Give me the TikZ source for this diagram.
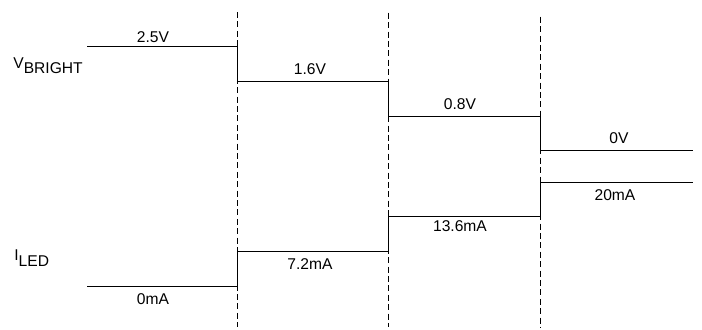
\documentclass[tikz,border=0pt]{standalone}
\usepackage{fontspec}
\setmainfont{Liberation Sans}
\usetikzlibrary{positioning}

\begin{document}
\begin{tikzpicture}[x=0.5pt, y=-0.5pt, level/.style={draw, line width=0.75pt}, guide/.style={draw, line width=0.6pt, dash pattern=on 3pt off 1.7pt}, val/.style={inner sep=0pt, font=\fontsize{7.8}{9}\selectfont}, sig/.style={inner sep=0pt, anchor=base west, font=\fontsize{7.8}{9}\selectfont}]

    \useasboundingbox (0,0) rectangle (702,329);

    % Draw dashed guides
    \coordinate (t1) at (237.5,12);
    \coordinate (b1) at (237.5,327);
    \coordinate (t2) at (388.5,12.7);
    \coordinate (b2) at (388.5,327);
    \coordinate (t3) at (540.5,16.7);
    \coordinate (b3) at (540.5,327);
    \draw[guide] (t1) -- (b1);
    \draw[guide] (t2) -- (b2);
    \draw[guide] (t3) -- (b3);

    % Draw voltage steps
    \coordinate (v0) at (87,46.5);
    \coordinate (v1) at (237.5,46.5);
    \coordinate (v2) at (237.5,81.5);
    \coordinate (v3) at (388.5,81.5);
    \coordinate (v4) at (388.5,116.5);
    \coordinate (v5) at (540.5,116.5);
    \coordinate (v6) at (540.5,150.5);
    \coordinate (v7) at (693,150.5);
    \draw[level] (v0) -- (v1) -- (v2) -- (v3) -- (v4) -- (v5) -- (v6) -- (v7);

    % Draw current steps
    \coordinate (i0) at (87,286.5);
    \coordinate (i1) at (237.5,286.5);
    \coordinate (i2) at (237.5,251.5);
    \coordinate (i3) at (388.5,251.5);
    \coordinate (i4) at (388.5,216.5);
    \coordinate (i5) at (540.5,216.5);
    \coordinate (i6) at (540.5,182.5);
    \coordinate (i7) at (693,182.5);
    \draw[level] (i0) -- (i1) -- (i2) -- (i3) -- (i4) -- (i5) -- (i6) -- (i7);

    % Draw signal names
    \node (vb) [sig] at (13,68) {V\raisebox{-2.8pt}{BRIGHT}};
    \node (il) [sig] at (14,260) {I\raisebox{-3pt}{LED}};

    % Draw values
    \node (v25) [val] at (153,37.2) {2.5V};
    \node (v16) [val] at (310,68.7) {1.6V};
    \node (v08) [val] at (460,104.3) {0.8V};
    \node (v00) [val] at (619,138) {0V};
    \node (i00) [val] at (153,299.5) {0mA};
    \node (i72) [val] at (310,264) {7.2mA};
    \node (i136) [val] at (460,226.5) {13.6mA};
    \node (i20) [val] at (615,195.5) {20mA};

\end{tikzpicture}
\end{document}
